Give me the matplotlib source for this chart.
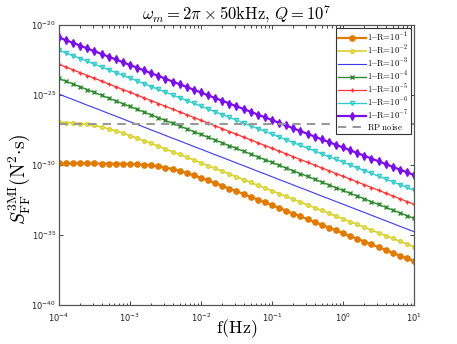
import numpy as np
import matplotlib
matplotlib.use("Agg")
import matplotlib.pyplot as plt
from matplotlib.ticker import LogLocator, NullFormatter, NullLocator

matplotlib.rcParams["mathtext.fontset"] = "cm"
matplotlib.rcParams["font.family"] = "DejaVu Sans"

# frequency grid: log10(f) from -4 to 1 in 0.1 steps
LOGF = [-4.0 + 0.1 * k for k in range(51)]

# log10 of S_FF for each mirror loss
S_R1 = [-29.88, -29.88, -29.88, -29.88, -29.88, -29.88, -29.89, -29.89, -29.90, -29.91,
        -29.92, -29.94, -29.97, -30.02, -30.08, -30.17, -30.28, -30.41, -30.56, -30.73,
        -30.90, -31.09, -31.28, -31.47, -31.67, -31.86, -32.06, -32.26, -32.46, -32.66,
        -32.86, -33.06, -33.26, -33.46, -33.66, -33.86, -34.06, -34.26, -34.46, -34.66,
        -34.86, -35.06, -35.26, -35.46, -35.66, -35.86, -36.06, -36.26, -36.46, -36.66,
        -36.86]
S_R2 = [-26.94, -26.96, -26.99, -27.03, -27.09, -27.17, -27.28, -27.40, -27.55, -27.71,
        -27.89, -28.07, -28.26, -28.45, -28.65, -28.85, -29.04, -29.24, -29.44, -29.64,
        -29.84, -30.04, -30.24, -30.44, -30.64, -30.84, -31.04, -31.24, -31.44, -31.64,
        -31.84, -32.04, -32.24, -32.44, -32.64, -32.84, -33.04, -33.24, -33.44, -33.64,
        -33.84, -34.04, -34.24, -34.44, -34.64, -34.84, -35.04, -35.24, -35.44, -35.64,
        -35.84]
S_R3 = [-24.93, -25.13, -25.32, -25.52, -25.72, -25.91, -26.11, -26.31, -26.50, -26.70,
        -26.90, -27.09, -27.29, -27.49, -27.68, -27.88, -28.08, -28.27, -28.47, -28.67,
        -28.86, -29.06, -29.26, -29.45, -29.65, -29.85, -30.04, -30.24, -30.44, -30.63,
        -30.83, -31.03, -31.22, -31.42, -31.62, -31.81, -32.01, -32.21, -32.40, -32.60,
        -32.79, -32.99, -33.19, -33.38, -33.58, -33.78, -33.97, -34.17, -34.37, -34.56,
        -34.76]
S_R4 = [-23.81, -24.01, -24.21, -24.41, -24.61, -24.81, -25.01, -25.21, -25.41, -25.61,
        -25.81, -26.01, -26.21, -26.41, -26.61, -26.81, -27.01, -27.21, -27.41, -27.61,
        -27.81, -28.01, -28.21, -28.41, -28.61, -28.81, -29.01, -29.21, -29.41, -29.61,
        -29.81, -30.01, -30.21, -30.41, -30.61, -30.81, -31.01, -31.21, -31.41, -31.61,
        -31.81, -32.01, -32.21, -32.41, -32.61, -32.81, -33.01, -33.21, -33.41, -33.61,
        -33.81]
S_R5 = [-22.80, -23.00, -23.20, -23.40, -23.60, -23.80, -24.00, -24.20, -24.40, -24.60,
        -24.80, -25.00, -25.20, -25.40, -25.60, -25.80, -26.00, -26.20, -26.40, -26.60,
        -26.80, -27.00, -27.20, -27.40, -27.60, -27.80, -28.00, -28.20, -28.40, -28.60,
        -28.80, -29.00, -29.20, -29.40, -29.60, -29.80, -30.00, -30.20, -30.40, -30.60,
        -30.80, -31.00, -31.20, -31.40, -31.60, -31.80, -32.00, -32.20, -32.40, -32.60,
        -32.80]
S_R6 = [-21.79, -21.99, -22.19, -22.39, -22.59, -22.79, -22.99, -23.19, -23.39, -23.59,
        -23.79, -23.99, -24.19, -24.39, -24.59, -24.79, -24.99, -25.19, -25.39, -25.59,
        -25.79, -25.99, -26.19, -26.39, -26.59, -26.79, -26.99, -27.19, -27.39, -27.59,
        -27.79, -27.99, -28.19, -28.39, -28.59, -28.79, -28.99, -29.19, -29.39, -29.59,
        -29.79, -29.99, -30.19, -30.39, -30.59, -30.79, -30.99, -31.19, -31.39, -31.59,
        -31.79]
S_R7 = [-20.88, -21.08, -21.27, -21.47, -21.67, -21.86, -22.06, -22.26, -22.45, -22.65,
        -22.85, -23.04, -23.24, -23.44, -23.63, -23.83, -24.03, -24.22, -24.42, -24.62,
        -24.81, -25.01, -25.21, -25.40, -25.60, -25.80, -25.99, -26.19, -26.39, -26.58,
        -26.78, -26.98, -27.17, -27.37, -27.57, -27.76, -27.96, -28.16, -28.35, -28.55,
        -28.74, -28.94, -29.14, -29.33, -29.53, -29.73, -29.92, -30.12, -30.32, -30.51,
        -30.71]
RP_NOISE = -27.05

LABELS = [r"$\mathrm{1\!\!-\!\!R}\!=\!10^{-%d}$" % i for i in range(1, 8)]
STYLES = [
    {"color": "#E07B00", "marker": "o", "markersize": 3.8, "linewidth": 1.6},
    {"color": "#D8D22E", "marker": "o", "markersize": 2.6, "linewidth": 1.2,
     "markerfacecolor": "#E8E070"},
    {"color": "#3A3AF0", "marker": None, "linewidth": 0.8},
    {"color": "#2E8B2E", "marker": "x", "markersize": 3.2, "linewidth": 1.0},
    {"color": "#FF3333", "marker": "+", "markersize": 3.5, "linewidth": 0.9},
    {"color": "#33CCCC", "marker": "v", "markersize": 3.0, "linewidth": 1.0,
     "markerfacecolor": "none"},
    {"color": "#7A0FE8", "marker": "d", "markersize": 4.2, "linewidth": 1.6},
]

f = 10.0 ** np.array(LOGF)
series = [S_R1, S_R2, S_R3, S_R4, S_R5, S_R6, S_R7]

fig = plt.figure(figsize=(4.57, 3.44), dpi=100)
ax = fig.add_axes([0.129, 0.113, 0.777, 0.814])

for vals, lab, st in zip(series, LABELS, STYLES):
    ax.loglog(f, 10.0 ** np.array(vals), label=lab, **st)
ax.loglog([f[0], f[-1]], [10.0 ** RP_NOISE] * 2, color="#999999",
          linestyle=(0, (4, 3)), linewidth=1.5, label=r"$\mathrm{RP\ noise}$")

ax.set_xlim(1e-4, 1e1)
ax.set_ylim(1e-40, 1e-20)
ax.set_yticks([1e-40, 1e-35, 1e-30, 1e-25, 1e-20])
ax.yaxis.set_minor_locator(NullLocator())
ax.xaxis.set_minor_locator(LogLocator(base=10, subs=np.arange(2, 10), numticks=30))
ax.xaxis.set_minor_formatter(NullFormatter())
ax.tick_params(which="both", direction="in", top=True, right=True,
               labelsize=6, length=3, width=0.6, colors="#222222")
ax.tick_params(which="minor", length=1.8)
ax.tick_params(axis="x", pad=5)
ax.tick_params(axis="y", pad=2)
for sp in ax.spines.values():
    sp.set_color("#555555")
    sp.set_linewidth(0.9)

ax.set_xlabel(r"$\mathrm{f(Hz)}$", fontsize=13, labelpad=-5)
ax.set_ylabel(r"$S_{\mathrm{FF}}^{\mathrm{3MI}}(\mathrm{N^2{\cdot}s})$", fontsize=14)
ax.yaxis.set_label_coords(-0.075, 0.45)
ax.set_title(r"$\omega_m = 2\pi\times 50\mathrm{kHz},\, Q = 10^7$", fontsize=12, pad=4)

leg = ax.legend(loc="upper right", fontsize=6.3, fancybox=False, framealpha=1,
                edgecolor="#333333", borderpad=0.25, labelspacing=0.0,
                handlelength=3.2, handletextpad=0.1, borderaxespad=0.35)
leg.get_frame().set_linewidth(0.8)

fig.savefig("out.png", dpi=100)
